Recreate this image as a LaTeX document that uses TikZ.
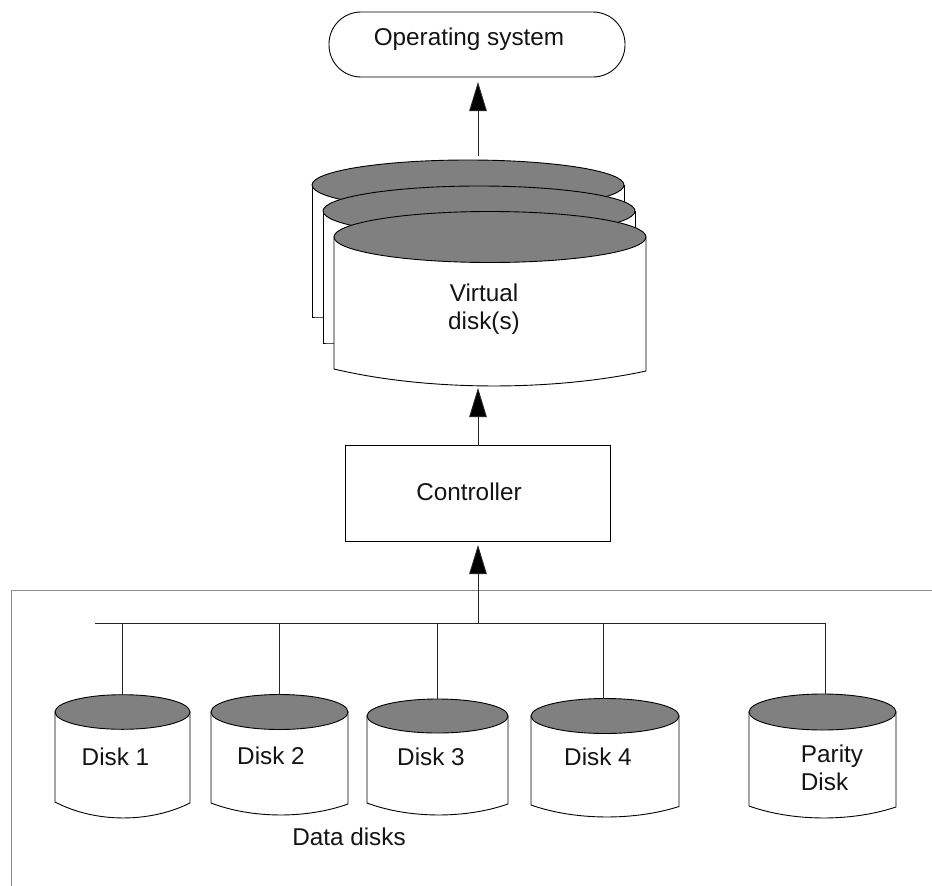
\documentclass[tikz,border=0pt]{standalone}
\usepackage{fontspec}
\setmainfont{Liberation Sans}
\usetikzlibrary{arrows.meta}
% #1 name, #2 xl, #3 xr, #4 cy, #5 ry, #6 bl, #7 br, #8 bmid
\newcommand{\diskshape}[8]{%
  \pgfmathsetmacro{\cxx}{(#2+#3)/2}%
  \pgfmathsetmacro{\rxx}{(#3-#2)/2}%
  \pgfmathsetmacro{\ctl}{#8+(#8-(#6+#7)/2)*0.33}%
  \draw[disk,fill=white] (#2,#4) -- (#2,#6) .. controls ({#2+0.3*(#3-#2)},\ctl) and ({#3-0.3*(#3-#2)},\ctl) .. (#3,#7) -- (#3,#4) -- cycle;
  \draw[disk,fill=diskgray] (\cxx,#4) ellipse ({\rxx} and {#5});
  \coordinate (#1) at (\cxx,#4-#5);
}
\definecolor{diskgray}{RGB}{128,128,128}
\definecolor{framegray}{RGB}{140,140,140}
\tikzset{
  disk/.style={draw=black,line width=0.9pt},
  wire/.style={draw=black!85,line width=0.9pt},
  arrowline/.style={wire,-{Triangle[length=29pt,width=17.5pt,fill=black]}},
  lbl/.style={font=\fontsize{24.3}{28.5}\selectfont,text=black!92,inner sep=0pt,align=left},
  lblc/.style={lbl,align=center}
}
\begin{document}
\begin{tikzpicture}[x=1pt,y=-1pt]
\useasboundingbox (0,0) rectangle (932,886);
\fill[white] (0,0) rectangle (932,886);
% frame
\draw[framegray,line width=0.9pt] (932,590) -- (11,590) -- (11,886);
% operating system
\node[disk,fill=white,rounded corners=32pt,minimum width=296pt,minimum height=65pt,inner sep=0pt,outer sep=0pt] (os) at (477,44.5) {};
\node[lblc] (oslabel) at (469,39) {Operating system};
% virtual disks
\diskshape{vback}{312}{624}{185}{25}{317}{317}{317}
\diskshape{vmid}{323}{635}{211}{25}{343}{343}{343}
\diskshape{vfront}{334}{646}{237}{25.5}{369}{371}{386}
\node[lblc] (vlabel) at (484,309) {Virtual\\disk(s)};
% controller
\node[disk,fill=white,minimum width=264.5pt,minimum height=96pt,inner sep=0pt,outer sep=0pt] (ctrl) at (477.75,493.7) {};
\node[lblc] (ctrllabel) at (469,492) {Controller};
% data disks
\diskshape{d1}{55}{190}{712}{17.3}{802}{803}{818}
\diskshape{d2}{211}{348}{712}{17.5}{803}{804}{815}
\diskshape{d3}{367}{508}{716}{17}{803}{804}{815}
\diskshape{d4}{531}{679}{716}{17.5}{805}{806.5}{817}
\diskshape{dp}{749}{896}{712}{18}{806}{807}{818}
\node[lbl] (l1) at (115.5,757) {Disk 1};
\node[lbl] (l2) at (271,756) {Disk 2};
\node[lbl] (l3) at (431,757) {Disk 3};
\node[lbl] (l4) at (598,757) {Disk 4};
\node[lbl] (lp) at (832,768) {Parity\\Disk};
\node[lbl] (ldata) at (349,837) {Data disks};
% bus
\coordinate (busl) at (95,623);
\coordinate (busr) at (825,623);
\coordinate (s1) at (122.5,694.7);
\coordinate (s2) at (279.5,694.5);
\coordinate (s3) at (437,699);
\coordinate (s4) at (603,698.5);
\coordinate (s5) at (825,694);
\draw[wire] (busl) -- (busr) -- (s5);
\draw[wire] (s1 |- busl) -- (s1);
\draw[wire] (s2 |- busl) -- (s2);
\draw[wire] (s3 |- busl) -- (s3);
\draw[wire] (s4 |- busl) -- (s4);
% arrows
\coordinate (busm) at (478,623);
\coordinate (vtop) at (478,156);
\coordinate (vbot) at (478,388);
\coordinate (ctrlin) at (478,545);
\coordinate (ostip) at (478,82);
\draw[arrowline] (busm) -- (ctrlin);
\draw[arrowline] (ctrl.north -| vbot) -- (vbot);
\draw[arrowline] (vtop) -- (ostip);
\end{tikzpicture}
\end{document}
